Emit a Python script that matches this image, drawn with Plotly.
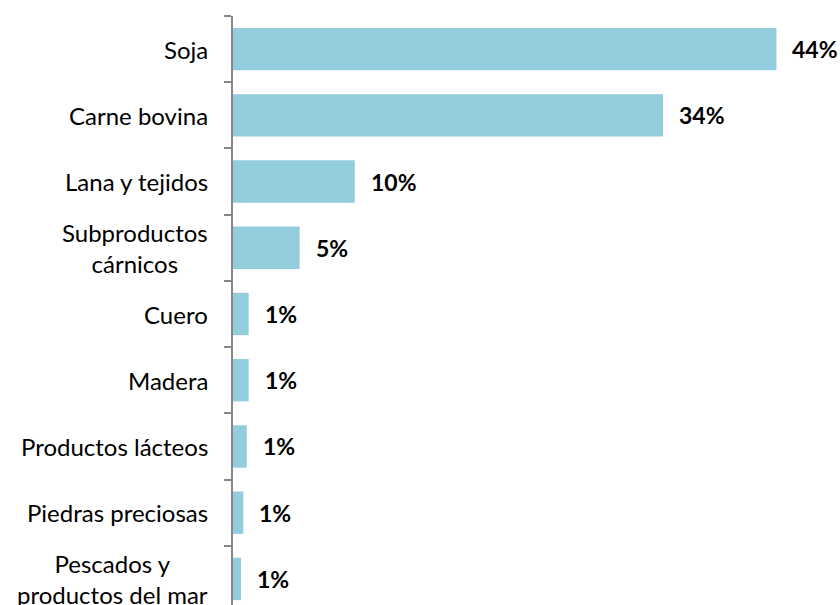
import plotly.graph_objects as go

categories = ["Soja", "Carne bovina", "Lana y tejidos", "Subproductos<br>cárnicos",
              "Cuero", "Madera", "Productos lácteos", "Piedras preciosas",
              "Pescados y<br>productos del mar"]
values = [43.6, 34.5, 9.77, 5.35, 1.26, 1.26, 1.1, 0.83, 0.64]
value_labels = ["44%", "34%", "10%", "5%", "1%", "1%", "1%", "1%", "1%"]

BAR_COLOR = "#93CDDD"
AXIS_COLOR = "#868686"
FONT = "Lato"

fig = go.Figure()
fig.add_trace(go.Bar(
    x=values, y=categories, orientation="h",
    marker=dict(color=BAR_COLOR, line=dict(width=0)),
    hoverinfo="skip",
))

annotations = []
for cat, v, lab in zip(categories, values, value_labels):
    annotations.append(dict(
        x=v, y=cat, xref="x", yref="y", text=f"<b>{lab}</b>",
        showarrow=False, xanchor="left", yanchor="middle", xshift=14,
        font=dict(family=FONT, size=23, color="#000000"),
    ))
    annotations.append(dict(
        x=0, y=cat, xref="paper", yref="y", text=cat,
        showarrow=False, xanchor="right", yanchor="middle", align="center",
        xshift=-23, font=dict(family=FONT, size=24, color="#000000"),
    ))

fig.update_layout(
    width=840, height=605,
    margin=dict(l=233, r=0, t=16, b=0, pad=0),
    paper_bgcolor="white", plot_bgcolor="white",
    showlegend=False,
    bargap=0.36,
    annotations=annotations,
    xaxis=dict(range=[0, 48.7], visible=False, fixedrange=True),
    yaxis=dict(
        type="category", categoryorder="array", categoryarray=categories,
        range=[8.394, -0.5],
        showline=True, linecolor=AXIS_COLOR, linewidth=2,
        ticks="outside", tickson="boundaries", ticklen=7, tickwidth=1.5,
        tickcolor=AXIS_COLOR, showticklabels=False, showgrid=False,
        zeroline=False, fixedrange=True,
    ),
)

fig.write_html("out.html")
